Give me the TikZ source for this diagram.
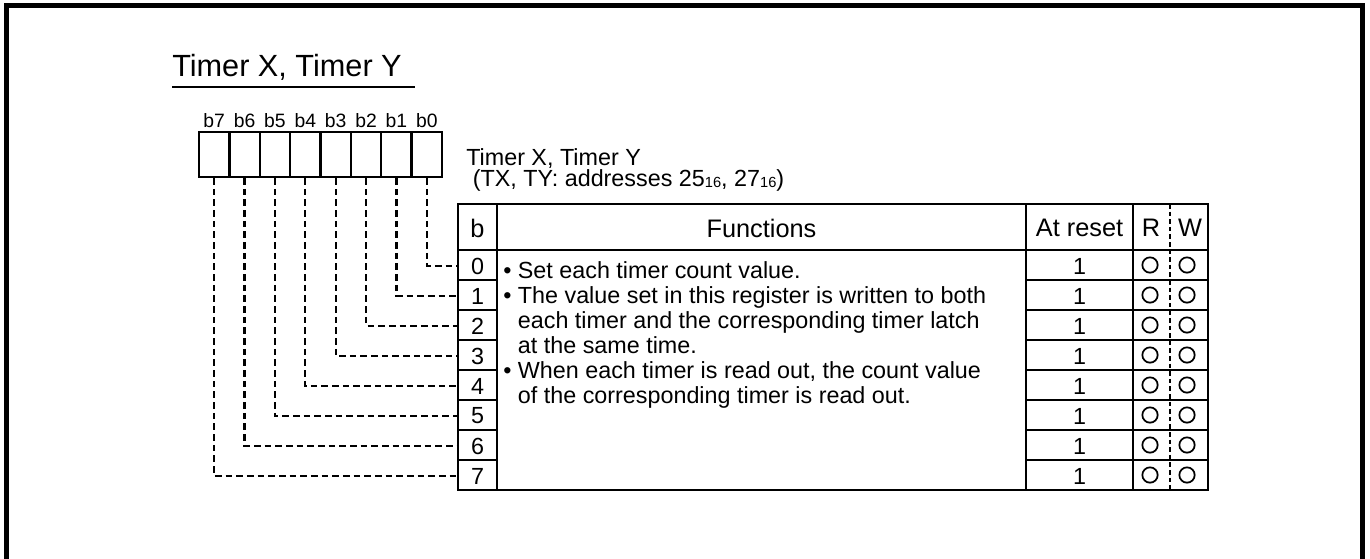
\documentclass[tikz,border=0pt]{standalone}
\usepackage{fontspec}
\setmainfont{Liberation Sans}
\newcommand{\sbs}[1]{{\fontsize{11}{11}\selectfont\raisebox{-1pt}{#1}}}
\begin{document}
\begin{tikzpicture}[x=0.75pt,y=-0.75pt,
  regcell/.style={draw,line width=1.7pt,minimum width=22.78pt,minimum height=33.75pt,inner sep=0pt},
  bitlab/.style={anchor=base,inner sep=0pt,font=\fontsize{14.5}{16}\selectfont},
  tbl/.style={line width=1.7pt},
  rwdiv/.style={line width=1.2pt,dash pattern=on 3.5pt off 2.2pt},
  conn/.style={line width=1.6pt,dash pattern=on 5pt off 3pt},
  body/.style={inner sep=0pt,font=\fontsize{17.5}{18.75}\selectfont},
  head/.style={inner sep=0pt,font=\fontsize{19}{21}\selectfont},
  rowcell/.style={body,minimum width=29.25pt,minimum height=22.5pt},
  circ/.style={circle,draw,line width=1.3pt,minimum size=11.5pt,inner sep=0pt}]
\useasboundingbox (0,0) rectangle (1370,558);
% outer frame
\draw[line width=3.75pt] (6,5) rectangle (1362,563);
% title
\node[anchor=base west,inner sep=0pt,font=\fontsize{23}{26}\selectfont] (title) at (172,76) {Timer X, Timer Y};
\draw[line width=1.3pt] (172,87) -- (415,87);
% register
\foreach \i in {0,...,7} {
  \node[regcell] (c\i) at ({442-30.375*(\i+0.5)},154.5) {};
  \node[bitlab] (l\i) at ({442-30.375*(\i+0.5)},127) {b\i};
}
\node[body,anchor=base west] (regname) at (466,165) {Timer X, Timer Y};
\node[body,anchor=base west] (regaddr) at (466,186) {\ (TX, TY: addresses 25\sbs{16}, 27\sbs{16})};
% table frame
\draw[tbl] (458,204) rectangle (1208,490);
\draw[tbl] (458,250) -- (1208,250);
\draw[tbl] (497,204) -- (497,490);
\draw[tbl] (1026,204) -- (1026,490);
\draw[tbl] (1133,204) -- (1133,490);
\draw[rwdiv] (1170,204) -- (1170,490);
\foreach \i in {1,...,7} {
  \draw[tbl] (458,250+30*\i) -- (497,250+30*\i);
  \draw[tbl] (1026,250+30*\i) -- (1208,250+30*\i);
}
% headers
\node[head] (hb) at (477.5,228) {b};
\node[head] (hf) at (761.5,228) {Functions};
\node[head] (ha) at (1079.5,228) {At reset};
\node[head] (hr) at (1151,228) {R};
\node[head] (hw) at (1190,228) {W};
% rows
\foreach \i in {0,...,7} {
  \node[rowcell] (n\i) at (477.5,266+30*\i) {\i};
  \node[body] (a\i) at (1079.5,266+30*\i) {1};
  \node[circ] (r\i) at (1150,265+30*\i) {};
  \node[circ] (w\i) at (1187,265+30*\i) {};
  \draw[conn] (c\i.south) |- (n\i.west);
}
% functions text
\node[body,anchor=north west,align=left] (func) at (503,261) {%
• Set each timer count value.\\
• The value set in this register is written to both\\
\hphantom{• }each timer and the corresponding timer latch\\
\hphantom{• }at the same time.\\
• When each timer is read out, the count value\\
\hphantom{• }of the corresponding timer is read out.};
\end{tikzpicture}
\end{document}
